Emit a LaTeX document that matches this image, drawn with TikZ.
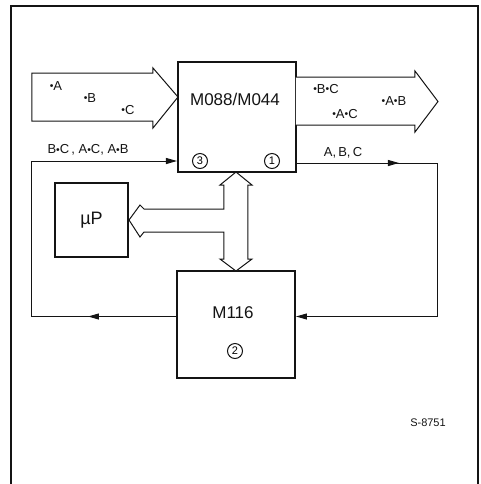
\documentclass[tikz,border=0pt]{standalone}
\usepackage{fontspec}
\setmainfont{Liberation Sans}
\usetikzlibrary{arrows.meta,calc}
\definecolor{ink}{HTML}{141414}
\newcommand{\ldot}{\raisebox{.1ex}{\scalebox{.8}{\textbullet}}}
\tikzset{
  blk/.style={draw=ink,line width=1pt,fill=white,inner sep=0pt,font=\fontsize{9}{10}\selectfont,text=ink},
  lbl/.style={font=\fontsize{8.5}{10}\selectfont,text=ink,inner sep=1pt},
  tiny/.style={font=\fontsize{6.5}{7}\selectfont,text=ink,inner sep=1pt},
  num/.style={circle,draw=ink,line width=.5pt,minimum size=7.5pt,inner sep=0pt,font=\fontsize{5.5}{6}\selectfont},
  ln/.style={draw=ink,line width=.5pt},
  ar/.style={ln,-{Triangle[length=5.5pt,width=3pt]}},
  fat/.style={draw=ink,line width=.5pt,fill=white,line join=miter},
}
\begin{document}
\begin{tikzpicture}[x=.5pt,y=-.5pt]
  \useasboundingbox (0,0) rectangle (481,484);
  \draw[ln,line width=.6pt] (11,484) -- (11,6) -- (478,6) -- (478,484);
  \node[blk,minimum width=59pt,minimum height=55pt] (mux) at (237,117) {};
  \node[blk,minimum width=59pt,minimum height=53.5pt] (m116) at (236,324.5) {};
  \node[blk,minimum width=36.5pt,minimum height=37pt] (up) at (91.5,220) {µP};
  \node[lbl] (muxt) at (235,99) {M088/M044};
  \node[lbl] (m116t) at (233,313) {M116};
  \node[num] (n3) at (200,161) {3};
  \node[num] (n1) at (272,161) {1};
  \node[num] (n2) at (235,351) {2};
  \draw[fat] (32,73) -- (153,73) -- (153,68) -- (178,97) -- (153,128) -- (153,121) -- (32,121) -- cycle;
  \draw[fat] (296,77) -- (415,77) -- (415,71) -- (438,101.5) -- (415,132) -- (415,125) -- (296,125);
  \foreach \t/\px/\py in {A/56/86,B/90/98,C/128/110} {
    \node[tiny] (in\t) at (\px,\py) {\ldot\t};
  }
  \foreach \s/\t/\px/\py in {B/C/326/89,A/C/345/114,A/B/394/101} {
    \node[tiny] (out\s\t) at (\px,\py) {\ldot\s\ldot\t};
  }
  \draw[fat] (236,172) -- (252,185) -- (248,185) -- (248,259) -- (252,259) -- (236,271)
    -- (220,259) -- (224,259) -- (224,232) -- (144,232) -- (140,237) -- (up.east)
    -- (140,205) -- (144,209) -- (224,209) -- (224,185) -- (220,185) -- cycle;
  \coordinate (p3) at ($(mux.south west)+(0,-12)$);
  \coordinate (p1) at ($(mux.south east)+(0,-10)$);
  \coordinate (p2w) at ($(m116.west)+(0,-8)$);
  \coordinate (p2e) at ($(m116.east)+(0,-8)$);
  \coordinate (cl) at (32,316.5);
  \coordinate (cr) at (438,316.5);
  \draw[ar] (p2w) -- (cl) |- (p3);
  \draw[ar] (p2w) -- ++(-88,0);
  \draw[ar] (p1) -| (cr) -- (p2e);
  \draw[ar] (p1) -- ++(102,0);
  \node[tiny] (fbl) at (88,150) {B\ldot C\,, A\ldot C, A\ldot B};
  \node[tiny] (fbr) at (343,153) {A,\,B,\,C};
  \node[tiny,font=\fontsize{5.5}{6}\selectfont] (ref) at (428,423) {S-8751};
\end{tikzpicture}
\end{document}
